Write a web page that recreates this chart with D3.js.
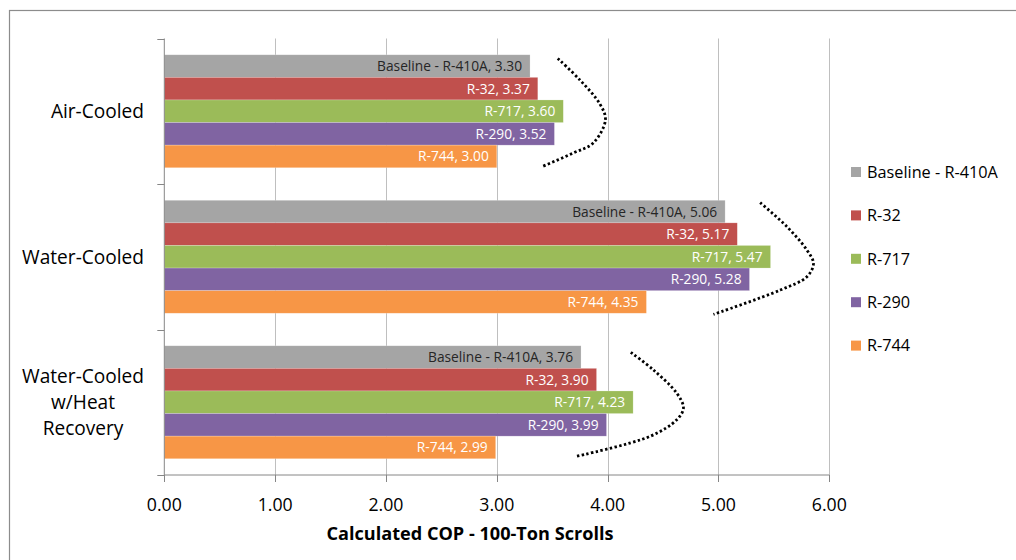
<!DOCTYPE html>
<html>
<head>
<meta charset="utf-8">
<script src="https://cdn.jsdelivr.net/npm/d3@7"></script>
<style>
  html, body { margin: 0; padding: 0; background: #fff; }
  svg { display: block; font-family: "Open Sans", "Noto Sans", sans-serif; }
</style>
</head>
<body>
<svg id="chart" width="1016" height="560"></svg>
<script>
// Chart data
const categories = ["Air-Cooled", "Water-Cooled", "Water-Cooled w/Heat Recovery"];
const categoryLines = [["Air-Cooled"], ["Water-Cooled"], ["Water-Cooled", "w/Heat", "Recovery"]];
const seriesNames = ["Baseline - R-410A", "R-32", "R-717", "R-290", "R-744"];
const seriesColors = ["#A5A5A5", "#C0504D", "#9BBB59", "#8064A2", "#F79646"];
const labelColors = ["#262626", "#ffffff", "#ffffff", "#ffffff", "#ffffff"];
const baseline = [3.30, 5.06, 3.76];
const r32 = [3.37, 5.17, 3.90];
const r717 = [3.60, 5.47, 4.23];
const r290 = [3.52, 5.28, 3.99];
const r744 = [3.00, 4.35, 2.99];
const xTicks = [0, 1, 2, 3, 4, 5, 6];
const xTitle = "Calculated COP - 100-Ton Scrolls";

// Dotted bracket annotations per category: [COP value, fraction down the category band]
const brackets = [
  [[3.55, 0.137], [3.75, 0.285], [3.93, 0.45], [3.98, 0.56], [3.87, 0.718], [3.69, 0.787], [3.40, 0.883]],
  [[5.376, 0.128], [5.617, 0.293], [5.798, 0.454], [5.857, 0.546], [5.798, 0.637], [5.557, 0.729], [4.955, 0.896]],
  [[4.209, 0.157], [4.413, 0.278], [4.624, 0.438], [4.684, 0.54], [4.624, 0.62], [4.384, 0.734], [3.707, 0.873]]
];

const seriesValues = [baseline, r32, r717, r290, r744];

const svg = d3.select("#chart");
const W = 1016, H = 560;

// Pick a font size so that a sample string spans the wanted width
function fitSize(sample, width, weight) {
  const t = svg.append("text").attr("font-size", 100).attr("font-weight", weight || "normal").text(sample);
  const w = t.node().getComputedTextLength();
  t.remove();
  return 100 * width / w;
}
const barLabelSize = fitSize("Baseline - R-410A, 3.30", 145);
const catSize = fitSize("Water-Cooled", 122);
const tickSize = fitSize("0.00", 35);
const titleSize = fitSize(xTitle, 287, "bold");
const legendSize = fitSize("Baseline - R-410A", 131);

// Chart frame
svg.append("rect").attr("x", 9.5).attr("y", 10.5).attr("width", W + 20).attr("height", H + 20)
  .attr("fill", "#fff").attr("stroke", "#8c8c8c").attr("stroke-width", 1.2);

const plot = { left: 164.3, top: 38.5, right: 829.3, bottom: 475 };

const x = d3.scaleLinear().domain([0, 6]).range([plot.left, plot.right]);
const y = d3.scaleBand().domain(categories).range([plot.top, plot.bottom]).padding(0);
const yInner = d3.scaleBand().domain(seriesNames).range([0, y.bandwidth()]).paddingInner(0).paddingOuter(0.72);

// Vertical gridlines
svg.append("g").selectAll("line").data(xTicks.filter(d => d > 0)).join("line")
  .attr("x1", d => Math.round(x(d)) + 0.5).attr("x2", d => Math.round(x(d)) + 0.5)
  .attr("y1", plot.top).attr("y2", plot.bottom)
  .attr("stroke", "#bfbfbf").attr("stroke-width", 1);

// Bars
const rows = [];
categories.forEach((c, ci) => {
  seriesNames.forEach((s, si) => {
    rows.push({ cat: c, series: s, si, value: seriesValues[si][ci] });
  });
});

const barG = svg.append("g");
barG.selectAll("rect").data(rows).join("rect")
  .attr("x", x(0))
  .attr("y", d => y(d.cat) + yInner(d.series))
  .attr("width", d => x(d.value) - x(0))
  .attr("height", yInner.bandwidth())
  .attr("fill", d => seriesColors[d.si])
  .attr("stroke", "#ffffff").attr("stroke-opacity", 0.35).attr("stroke-width", 0.6);

// Data labels (inside end)
barG.selectAll("text").data(rows).join("text")
  .attr("x", d => x(d.value) - 8)
  .attr("y", d => y(d.cat) + yInner(d.series) + yInner.bandwidth() / 2)
  .attr("dy", "0.36em")
  .attr("text-anchor", "end")
  .attr("font-size", barLabelSize)
  .attr("fill", d => labelColors[d.si])
  .text(d => `${d.series}, ${d.value.toFixed(2)}`);

// Dotted bracket curves
const bracketLine = d3.line().curve(d3.curveCatmullRom.alpha(0.5));
svg.append("g").selectAll("path").data(brackets.map((b, i) => ({ b, cat: categories[i] }))).join("path")
  .attr("d", d => bracketLine(d.b.map(p => [x(p[0]), y(d.cat) + p[1] * y.bandwidth()])))
  .attr("fill", "none").attr("stroke", "#000").attr("stroke-width", 2.8)
  .attr("stroke-dasharray", "2.4 2.4");

// Y axis
const yAxisG = svg.append("g").attr("stroke", "#868686").attr("stroke-width", 1);
yAxisG.append("line").attr("x1", plot.left).attr("x2", plot.left).attr("y1", plot.top).attr("y2", plot.bottom);
const bounds = categories.map(c => y(c)).concat([plot.bottom]);
yAxisG.selectAll("line.tick").data(bounds).join("line").attr("class", "tick")
  .attr("x1", plot.left - 7).attr("x2", plot.left)
  .attr("y1", d => Math.round(d) + 0.5).attr("y2", d => Math.round(d) + 0.5);

// X axis
const xAxisG = svg.append("g").attr("stroke", "#868686").attr("stroke-width", 1);
xAxisG.append("line").attr("x1", plot.left).attr("x2", plot.right).attr("y1", plot.bottom).attr("y2", plot.bottom);
xAxisG.selectAll("line.tick").data(xTicks).join("line").attr("class", "tick")
  .attr("x1", d => Math.round(x(d)) + 0.5).attr("x2", d => Math.round(x(d)) + 0.5)
  .attr("y1", plot.bottom).attr("y2", plot.bottom + 7);

svg.append("g").selectAll("text").data(xTicks).join("text")
  .attr("x", d => x(d)).attr("y", 505).attr("dy", "0.36em")
  .attr("text-anchor", "middle").attr("font-size", tickSize).attr("fill", "#000")
  .text(d => d.toFixed(2));

svg.append("text").attr("x", 470).attr("y", 533).attr("dy", "0.36em")
  .attr("text-anchor", "middle").attr("font-size", titleSize).attr("font-weight", "bold").attr("fill", "#000")
  .text(xTitle);

// Category labels
const catG = svg.append("g");
categories.forEach((c, ci) => {
  const lines = categoryLines[ci];
  const lh = 26.3;
  const cy = y(c) + y.bandwidth() / 2;
  const g = catG.append("g");
  const texts = lines.map((ln, li) => g.append("text")
    .attr("y", cy + (li - (lines.length - 1) / 2) * lh)
    .attr("dy", "0.36em")
    .attr("font-size", catSize).attr("fill", "#000")
    .text(ln));
  const maxW = d3.max(texts, t => t.node().getComputedTextLength());
  const rightEdge = 144;
  texts.forEach(t => t.attr("text-anchor", "middle").attr("x", rightEdge - maxW / 2));
});

// Legend
const legend = svg.append("g");
seriesNames.forEach((s, si) => {
  const cy = 172 + si * 43.4;
  legend.append("rect").attr("x", 851).attr("y", cy - 5).attr("width", 10).attr("height", 10)
    .attr("fill", seriesColors[si]);
  legend.append("text").attr("x", 867).attr("y", cy).attr("dy", "0.36em")
    .attr("font-size", legendSize).attr("fill", "#000").text(s);
});
</script>
</body>
</html>
